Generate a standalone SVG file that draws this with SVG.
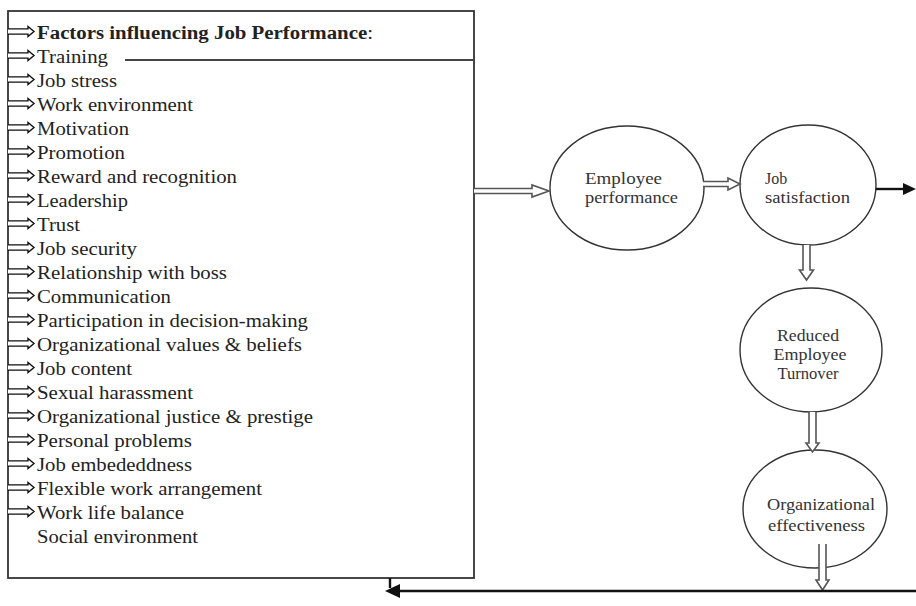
<svg xmlns="http://www.w3.org/2000/svg" width="916" height="606" viewBox="0 0 916 606">
<style>
.t{font-family:"Liberation Serif","Times New Roman",serif;font-size:18px;fill:#222}
.e{font-family:"Liberation Serif","Times New Roman",serif;font-size:16px;fill:#333}
.box{fill:#fff;stroke:#333;stroke-width:1.8}
.ell{fill:#fff;stroke:#333;stroke-width:1.4}
.la{fill:#fff;stroke:#111;stroke-width:1.4}
.ha{fill:#fff;stroke:#555;stroke-width:1.6}
.bl{stroke:#111;stroke-width:2.4;fill:none}
</style>
<defs>
<path id="la" class="la" d="M8,-2.6 H28 V-5 L34,0 L28,5 V2.6 H8"/>
</defs>
<rect width="916" height="606" fill="#fff"/>
<g id="factors">
<rect class="box" x="8" y="11" width="466" height="567"/>
<use href="#la" x="0" y="31.5"/>
<use href="#la" x="0" y="55.5"/>
<use href="#la" x="0" y="79.5"/>
<use href="#la" x="0" y="103.5"/>
<use href="#la" x="0" y="127.5"/>
<use href="#la" x="0" y="151.5"/>
<use href="#la" x="0" y="175.5"/>
<use href="#la" x="0" y="199.5"/>
<use href="#la" x="0" y="223.5"/>
<use href="#la" x="0" y="247.5"/>
<use href="#la" x="0" y="271.5"/>
<use href="#la" x="0" y="295.5"/>
<use href="#la" x="0" y="319.5"/>
<use href="#la" x="0" y="343.5"/>
<use href="#la" x="0" y="367.5"/>
<use href="#la" x="0" y="391.5"/>
<use href="#la" x="0" y="415.5"/>
<use href="#la" x="0" y="439.5"/>
<use href="#la" x="0" y="463.5"/>
<use href="#la" x="0" y="487.5"/>
<use href="#la" x="0" y="511.5"/>
<text class="t" x="37" y="39" textLength="336" lengthAdjust="spacingAndGlyphs"><tspan font-weight="bold">Factors influencing Job Performance</tspan>:</text>
<text class="t" x="37" y="63" textLength="71" lengthAdjust="spacingAndGlyphs">Training</text>
<text class="t" x="37" y="87" textLength="80" lengthAdjust="spacingAndGlyphs">Job stress</text>
<text class="t" x="37" y="111" textLength="156" lengthAdjust="spacingAndGlyphs">Work environment</text>
<text class="t" x="37" y="135" textLength="92" lengthAdjust="spacingAndGlyphs">Motivation</text>
<text class="t" x="37" y="159" textLength="88" lengthAdjust="spacingAndGlyphs">Promotion</text>
<text class="t" x="37" y="183" textLength="200" lengthAdjust="spacingAndGlyphs">Reward and recognition</text>
<text class="t" x="37" y="207" textLength="91" lengthAdjust="spacingAndGlyphs">Leadership</text>
<text class="t" x="37" y="231" textLength="43" lengthAdjust="spacingAndGlyphs">Trust</text>
<text class="t" x="37" y="255" textLength="100" lengthAdjust="spacingAndGlyphs">Job security</text>
<text class="t" x="37" y="279" textLength="190" lengthAdjust="spacingAndGlyphs">Relationship with boss</text>
<text class="t" x="37" y="303" textLength="134" lengthAdjust="spacingAndGlyphs">Communication</text>
<text class="t" x="37" y="327" textLength="271" lengthAdjust="spacingAndGlyphs">Participation in decision-making</text>
<text class="t" x="37" y="351" textLength="265" lengthAdjust="spacingAndGlyphs">Organizational values &amp; beliefs</text>
<text class="t" x="37" y="375" textLength="95" lengthAdjust="spacingAndGlyphs">Job content</text>
<text class="t" x="37" y="399" textLength="156" lengthAdjust="spacingAndGlyphs">Sexual harassment</text>
<text class="t" x="37" y="423" textLength="276" lengthAdjust="spacingAndGlyphs">Organizational justice &amp; prestige</text>
<text class="t" x="37" y="447" textLength="155" lengthAdjust="spacingAndGlyphs">Personal problems</text>
<text class="t" x="37" y="471" textLength="155" lengthAdjust="spacingAndGlyphs">Job embededdness</text>
<text class="t" x="37" y="495" textLength="225" lengthAdjust="spacingAndGlyphs">Flexible work arrangement</text>
<text class="t" x="37" y="519" textLength="147" lengthAdjust="spacingAndGlyphs">Work life balance</text>
<text class="t" x="37" y="543" textLength="161" lengthAdjust="spacingAndGlyphs">Social environment</text>
</g>
<g id="employee-performance">
<ellipse class="ell" cx="627" cy="188" rx="77" ry="62"/>
<text class="e" x="585" y="184" textLength="77" lengthAdjust="spacingAndGlyphs">Employee</text>
<text class="e" x="585" y="203" textLength="93" lengthAdjust="spacingAndGlyphs">performance</text>
</g>
<g id="job-satisfaction">
<ellipse class="ell" cx="808" cy="185" rx="68" ry="60"/>
<text class="e" x="765" y="184">Job</text>
<text class="e" x="765" y="203" textLength="85" lengthAdjust="spacingAndGlyphs">satisfaction</text>
</g>
<g id="reduced-turnover">
<ellipse class="ell" cx="811" cy="350" rx="71" ry="62"/>
<text class="e" x="808" y="341" text-anchor="middle" textLength="62" lengthAdjust="spacingAndGlyphs">Reduced</text>
<text class="e" x="810" y="360" text-anchor="middle" textLength="73" lengthAdjust="spacingAndGlyphs">Employee</text>
<text class="e" x="808" y="379" text-anchor="middle" textLength="61" lengthAdjust="spacingAndGlyphs">Turnover</text>
</g>
<g id="org-effectiveness">
<ellipse class="ell" cx="815" cy="509" rx="72" ry="59"/>
<text class="e" x="767" y="510" textLength="108" lengthAdjust="spacingAndGlyphs">Organizational</text>
<text class="e" x="768" y="531" textLength="97" lengthAdjust="spacingAndGlyphs">effectiveness</text>
</g>
<g id="connectors">
<line x1="125" y1="60" x2="474" y2="60" stroke="#444" stroke-width="2"/>
<path class="ha" d="M474,188.5 H532 V185 L549,191 L532,197 V193.5 H474"/>
<path class="ha" d="M703,181.5 H728 V178 L740,184 L728,190 V186.5 H703"/>
<line class="bl" x1="876" y1="189" x2="905" y2="189"/>
<polygon points="903,183 916,189 903,195" fill="#111"/>
<path class="ha" d="M803,245 V270 H799.5 L806.5,280 L813.5,270 H810 V245"/>
<path class="ha" d="M809,412 V443 H806 L812.5,452 L819,443 H816 V412"/>
<path class="ha" d="M819,544 V580 H816 L822.5,590 L829,580 H826 V544"/>
<line class="bl" x1="916" y1="591" x2="397" y2="591"/>
<line class="bl" x1="390" y1="578" x2="390" y2="588"/>
<polygon points="385,591 400,584 400,598" fill="#111"/>
</g>
</svg>
